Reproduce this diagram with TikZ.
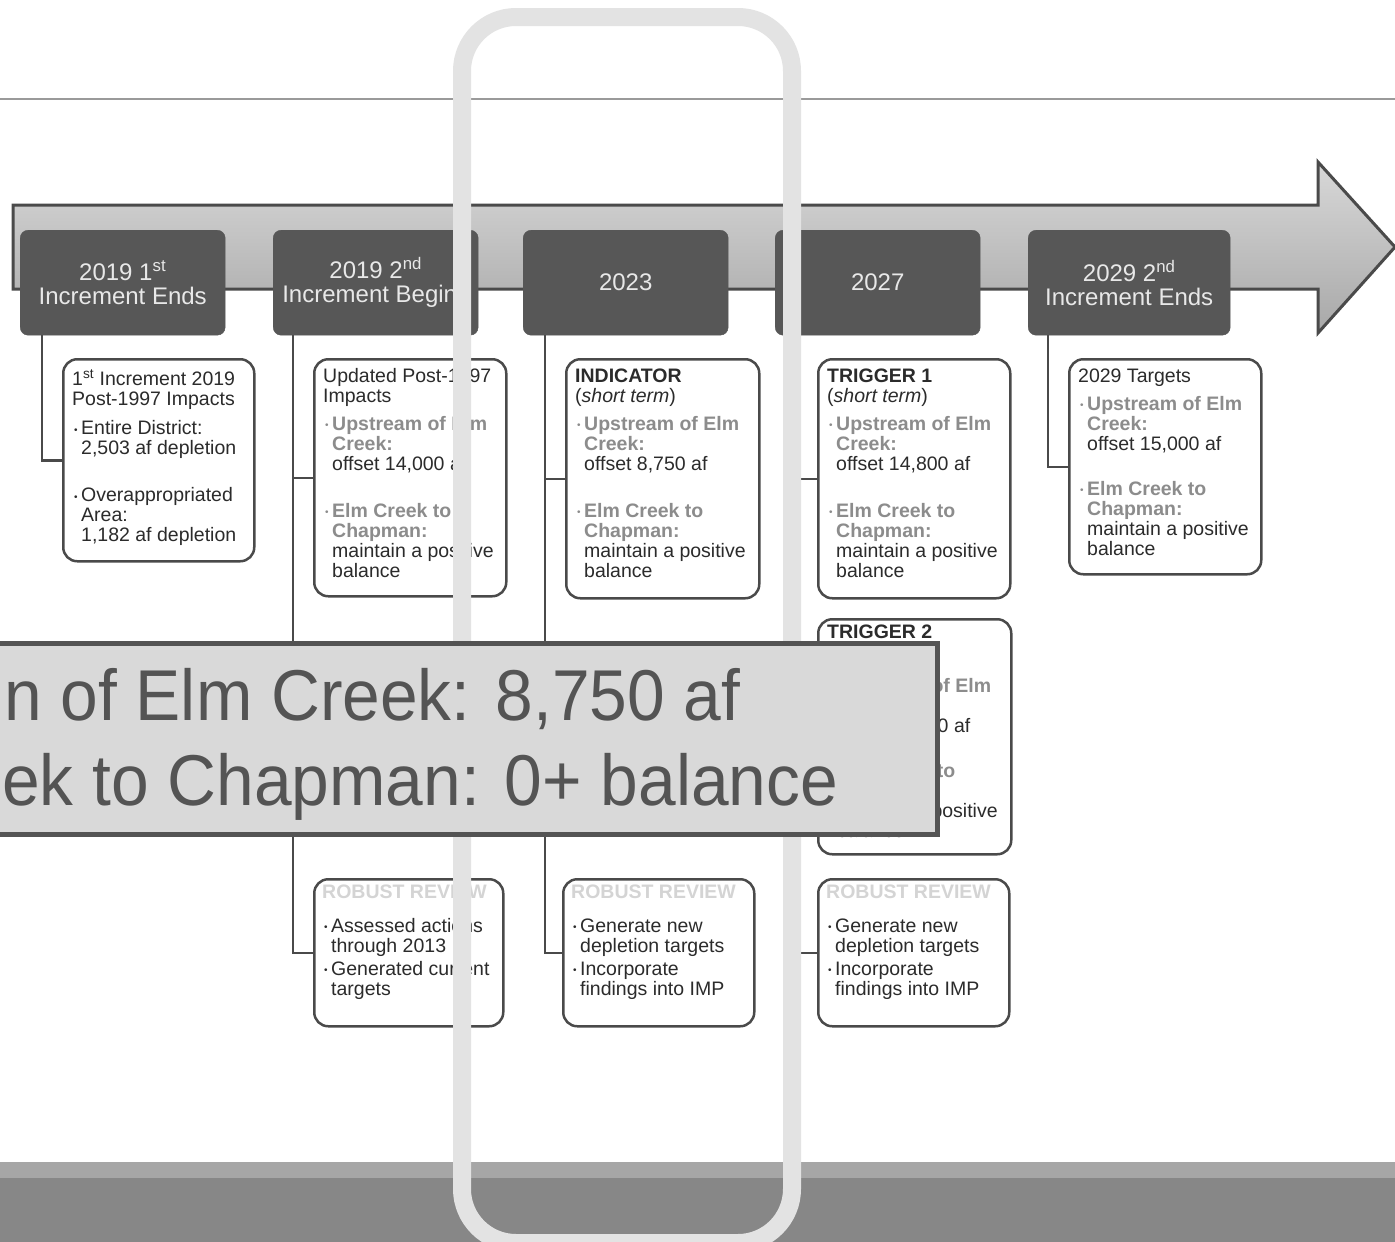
\documentclass[tikz,border=0pt]{standalone}
\usepackage{fontspec}
\setmainfont{Liberation Sans}
\newfontfamily\ovfont[FakeStretch=0.94]{Liberation Sans}
\definecolor{hdr}{HTML}{575757}
\definecolor{bord}{HTML}{4A4A4A}
\definecolor{lab}{HTML}{8C8C8C}
\definecolor{txt}{HTML}{2B2B2B}
\definecolor{rr}{HTML}{D4D4D4}
\definecolor{framec}{HTML}{E3E3E3}
\definecolor{ovfill}{HTML}{D9D9D9}
\definecolor{ovtxt}{HTML}{545454}
\definecolor{barA}{HTML}{A6A6A6}
\definecolor{barB}{HTML}{878787}
\definecolor{toplinec}{HTML}{9A9A9A}
\definecolor{arrtop}{HTML}{D8D8D8}
\definecolor{arrbot}{HTML}{A8A8A8}
\definecolor{hdrtxt}{HTML}{E8E8E8}
\newcommand{\bul}{\makebox[9pt][l]{\hspace{2pt}\raisebox{1.5pt}{\fontsize{10}{10}\selectfont •}}}
\newcommand{\gbul}{\textcolor{lab}{\bul}}
\newcommand{\indn}{\hspace*{9pt}}
\newcommand{\grl}[1]{\textcolor{lab}{\bfseries #1}}
\newcommand{\fstl}{\rule{0pt}{15pt}}
\tikzset{
  hbox/.style={fill=hdr, draw=hdr, rounded corners=8pt, anchor=north west, inner sep=0pt, minimum width=205pt, minimum height=105pt},
  htext/.style={align=center, text=hdrtxt, font=\fontsize{24}{24}\selectfont, inner sep=0pt},
  cbox/.style={draw=bord, line width=2.5pt, rounded corners=14pt, fill=white, anchor=north west, inner sep=0pt},
  btext/.style={anchor=north west, inner sep=0pt, align=left, text=txt, font=\fontsize{19.5}{20}\selectfont},
  conn/.style={draw=bord, line width=2.5pt},
  ovtextstyle/.style={anchor=base west, inner sep=0pt, text=ovtxt, font=\ovfont\fontsize{72}{72}\selectfont}
}
\begin{document}
\begin{tikzpicture}[x=1pt,y=-1pt]
\useasboundingbox (0,0) rectangle (1395,1242);
\fill[white] (0,0) rectangle (1395,1242);
% top rule
\draw[toplinec, line width=1.5pt] (0,99) -- (1395,99);
% timeline arrow
\draw[draw=bord, line width=3pt, top color=arrtop, bottom color=arrbot]
  (13,205) -- (1318,205) -- (1318,162) -- (1395,247) -- (1318,333) -- (1318,289) -- (13,289) -- cycle;
% header boxes
\node[hbox] (h1) at (20,230) {};
\node[hbox] (h2) at (273,230) {};
\node[hbox] (h3) at (523,230) {};
\node[hbox] (h4) at (775,230) {};
\node[hbox, minimum width=202pt] (h5) at (1028,230) {};
\node[htext] (t1) at (h1.center) {2019 1\textsuperscript{st}\\Increment Ends};
\node[htext] (t2) at (h2.center) {2019 2\textsuperscript{nd}\\Increment Begins};
\node[htext] (t3) at (h3.center) {2023};
\node[htext] (t4) at (h4.center) {2027};
\node[htext] (t5) at (h5.center) {2029 2\textsuperscript{nd}\\Increment Ends};
% content boxes
\node[cbox, minimum width=191pt, minimum height=202pt] (A) at (62,358) {};
\node[cbox, minimum width=192pt, minimum height=237pt] (B) at (313,358) {};
\node[cbox, minimum width=193pt, minimum height=239pt] (C) at (565,358) {};
\node[cbox, minimum width=192pt, minimum height=239pt] (D) at (817,358) {};
\node[cbox, minimum width=192pt, minimum height=215pt] (E) at (1068,358) {};
\node[cbox, minimum width=193pt, minimum height=235pt] (F) at (817,618) {};
\node[cbox, minimum width=189pt, minimum height=147pt] (G) at (313,878) {};
\node[cbox, minimum width=191pt, minimum height=147pt] (H) at (562,878) {};
\node[cbox, minimum width=191pt, minimum height=147pt] (I) at (817,878) {};
% connectors
\coordinate (c1) at ([xshift=22pt]h1.south west);
\coordinate (c2) at ([xshift=20pt]h2.south west);
\coordinate (c3) at ([xshift=22pt]h3.south west);
\coordinate (c4) at ([xshift=21pt]h4.south west);
\coordinate (c5) at ([xshift=20pt]h5.south west);
\draw[conn] (c1) |- (A.west);
\draw[conn] (c2) |- (G.west);
\draw[conn] (c2 |- B.west) -- (B.west);
\draw[conn] (c3) |- (H.west);
\draw[conn] (c3 |- C.west) -- (C.west);
\draw[conn] (c4) |- (I.west);
\draw[conn] (c4 |- D.west) -- (D.west);
\draw[conn] (c4 |- F.west) -- (F.west);
\draw[conn] (c5) |- (E.west);
% box texts
\node[btext] (At) at (72,369) {\fstl 1\textsuperscript{st} Increment 2019\\
Post-1997 Impacts\\[9pt]
\bul Entire District:\\
\indn 2,503 af depletion\\[27pt]
\bul Overappropriated\\
\indn Area:\\
\indn 1,182 af depletion};
\node[btext] (Bt) at (323,367) {\fstl Updated Post-1997\\
Impacts\\[8pt]
\gbul\grl{Upstream of Elm}\\
\indn\grl{Creek:}\\
\indn offset 14,000 af\\[27pt]
\gbul\grl{Elm Creek to}\\
\indn\grl{Chapman:}\\
\indn maintain a positive\\
\indn balance};
\node[btext] (Ct) at (575,367) {\fstl\textbf{INDICATOR}\\
(\textit{short term})\\[8pt]
\gbul\grl{Upstream of Elm}\\
\indn\grl{Creek:}\\
\indn offset 8,750 af\\[27pt]
\gbul\grl{Elm Creek to}\\
\indn\grl{Chapman:}\\
\indn maintain a positive\\
\indn balance};
\node[btext] (Dt) at (827,367) {\fstl\textbf{TRIGGER 1}\\
(\textit{short term})\\[8pt]
\gbul\grl{Upstream of Elm}\\
\indn\grl{Creek:}\\
\indn offset 14,800 af\\[27pt]
\gbul\grl{Elm Creek to}\\
\indn\grl{Chapman:}\\
\indn maintain a positive\\
\indn balance};
\node[btext] (Et) at (1078,367) {\fstl 2029 Targets\\[8pt]
\gbul\grl{Upstream of Elm}\\
\indn\grl{Creek:}\\
\indn offset 15,000 af\\[25pt]
\gbul\grl{Elm Creek to}\\
\indn\grl{Chapman:}\\
\indn maintain a positive\\
\indn balance};
\node[btext] (Ft) at (827,623) {\fstl\textbf{TRIGGER 2}\\
(\textit{long term})\\[14pt]
\gbul\grl{Upstream of Elm}\\
\indn\grl{Creek:}\\
\indn offset 14,800 af\\[25pt]
\gbul\grl{Elm Creek to}\\
\indn\grl{Chapman:}\\
\indn maintain a positive\\
\indn balance};
\node[btext] (Gt) at (322,883) {\fstl\textcolor{rr}{\bfseries ROBUST REVIEW}\\[14pt]
\bul Assessed actions\\
\indn through 2013\\[3pt]
\bul Generated current\\
\indn targets};
\node[btext] (Ht) at (571,883) {\fstl\textcolor{rr}{\bfseries ROBUST REVIEW}\\[14pt]
\bul Generate new\\
\indn depletion targets\\[3pt]
\bul Incorporate\\
\indn findings into IMP};
\node[btext] (It) at (826,883) {\fstl\textcolor{rr}{\bfseries ROBUST REVIEW}\\[14pt]
\bul Generate new\\
\indn depletion targets\\[3pt]
\bul Incorporate\\
\indn findings into IMP};
% bottom bar
\fill[barA] (0,1162) rectangle (1395,1178);
\fill[barB] (0,1178) rectangle (1395,1242);
% highlight frame
\draw[framec, line width=18pt, rounded corners=54pt] (462,17) rectangle (792,1243);
% overlay callout
\node[draw=ovtxt, line width=5pt, fill=ovfill, minimum width=945pt, minimum height=191pt, anchor=north west, inner sep=0pt] (ov) at (-10,641) {};
\node[ovtextstyle] (ov1) at (4,720) {n of Elm Creek: 8,750 af};
\node[ovtextstyle] (ov2) at (2,805) {ek to Chapman: 0+ balance};
\end{tikzpicture}
\end{document}
